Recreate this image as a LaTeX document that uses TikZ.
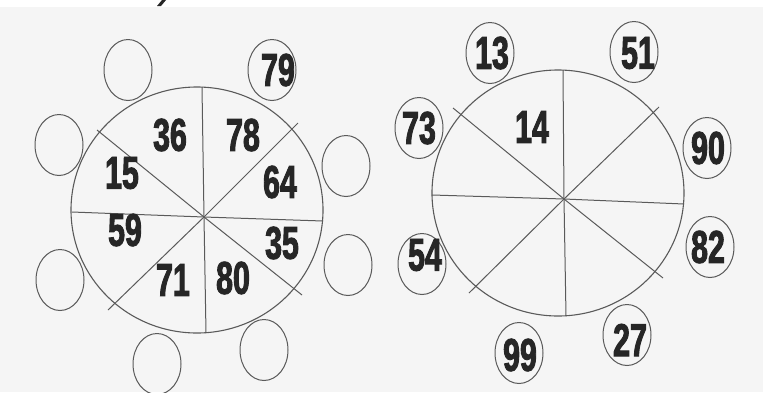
\documentclass[tikz,border=0pt]{standalone}
\usepackage{fontspec}
\newfontfamily\numfont[UprightFont={* Bold},FakeStretch=0.66,FakeBold=2]{Liberation Sans}
\usetikzlibrary{calc,shapes.geometric}
\definecolor{ink}{HTML}{262626}
\definecolor{pencil}{HTML}{5A5A5A}
\definecolor{paper}{HTML}{F5F5F5}
\tikzset{
    puzzle/.style = {x=1pt, y=-1pt},
    wheel/.style  = {draw=pencil, line width=1.1pt, ellipse, inner sep=0pt,
                     minimum width=252pt, minimum height=246pt},
    bubble/.style = {draw=pencil, line width=1pt, ellipse, inner sep=0pt,
                     minimum width=48pt, minimum height=61pt},
    spoke/.style  = {draw=pencil, line width=1pt},
    num/.style    = {text=ink, inner sep=0pt,
                     font=\numfont\fontsize{46}{46}\selectfont}
}

\begin{document}
\begin{tikzpicture}[puzzle]

% ================= Paper =================
\fill[paper] (0,0) rectangle (763,392);
\fill[white] (0,0) rectangle (763,7);
\useasboundingbox (0,0) rectangle (763,392);
\fill[ink] (157,6) -- (161,6) -- (166,0) -- (162,0) -- cycle;

% ================= Left wheel =================
\node[wheel] (wheelL) at (197,210) {};
\coordinate (hubL) at (204,217);
\draw[spoke] (202,87)  -- (hubL) -- (206,333);
\draw[spoke] (72,212)  -- (hubL) -- (323,221);
\draw[spoke] (97,130)  -- (hubL) -- (302,295);
\draw[spoke] (298,123) -- (hubL) -- (108,310);

\node[num] (a36) at (170,135) {36};
\node[num] (a78) at (243,135) {78};
\node[num] (a15) at (122,173) {15};
\node[num] (a64) at (280,182) {64};
\node[num] (a59) at (125,230) {59};
\node[num] (a35) at (282,243) {35};
\node[num] (a71) at (173,280) {71};
\node[num] (a80) at (233,278) {80};

% outer bubbles, clockwise from top
\node[bubble] (oL1) at (128,70)  {};
\node[bubble] (oL2) at (272,70)  {};
\node[bubble] (oL3) at (346,166) {};
\node[bubble] (oL4) at (348,265) {};
\node[bubble] (oL5) at (264,350) {};
\node[bubble] (oL6) at (157,364) {};
\node[bubble] (oL7) at (60,280)  {};
\node[bubble] (oL8) at (59,145)  {};
\node[num] (a79) at ($(oL2)+(6,0)$) {79};

% ================= Right wheel =================
\node[wheel] (wheelR) at (558,193) {};
\coordinate (hubR) at (564,199);
\draw[spoke] (563,70)  -- (hubR) -- (566,316);
\draw[spoke] (432,195) -- (hubR) -- (684,204);
\draw[spoke] (453,108) -- (hubR) -- (663,278);
\draw[spoke] (659,107) -- (hubR) -- (469,293);

\node[num] (b14) at (532,127) {14};

% outer bubbles, clockwise from top
\node[bubble] (oR1) at (490,53)  {};
\node[bubble] (oR2) at (634,52)  {};
\node[bubble] (oR3) at (707,148) {};
\node[bubble] (oR4) at (710,247) {};
\node[bubble] (oR5) at (627,335) {};
\node[bubble] (oR6) at (519,353) {};
\node[bubble] (oR7) at (422,264) {};
\node[bubble] (oR8) at (419,128) {};

\node[num] (b13) at (492,53)  {13};
\node[num] (b51) at (638,53)  {51};
\node[num] (b90) at (708,148) {90};
\node[num] (b82) at (708,247) {82};
\node[num] (b27) at (630,340) {27};
\node[num] (b99) at (520,355) {99};
\node[num] (b54) at (425,255) {54};
\node[num] (b73) at (419,128) {73};

\end{tikzpicture}
\end{document}
